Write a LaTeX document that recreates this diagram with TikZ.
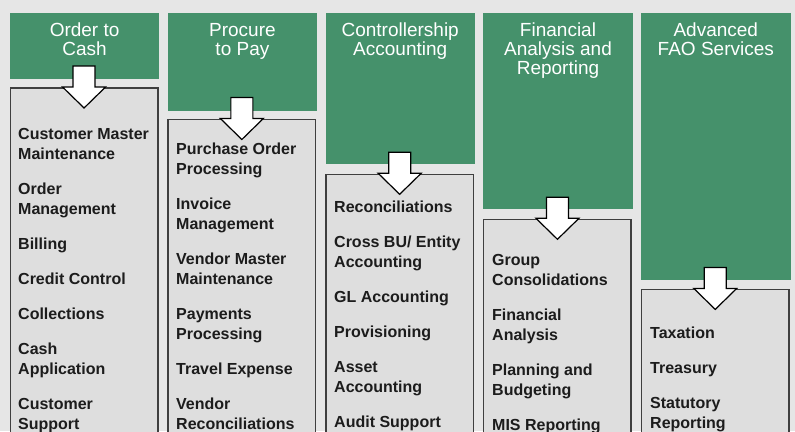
\documentclass[tikz,border=0pt]{standalone}
\usepackage{fontspec}
\setmainfont{Liberation Sans}
\usetikzlibrary{calc}

\definecolor{pagebg}{HTML}{E6E6E6}
\definecolor{fao}{HTML}{45916B}
\definecolor{panelfill}{HTML}{DEDEDE}
\definecolor{rulegray}{HTML}{3F3F3F}
\definecolor{ink}{HTML}{1C1C1C}

% two stacked lines whose reference point is the first baseline
\newcommand\twolines[2]{\vtop{\hbox{#1}\hbox{#2}}}
% centred heading lines, reference point on the first baseline
\newcommand\headlines[1]{\vtop{\halign{\hfil##\hfil\cr#1\crcr}}}

\tikzset{
  headbox/.style={fill=fao, draw=none, inner sep=0pt, outer sep=0pt,
    anchor=north west, minimum width=149.3pt},
  panelbox/.style={fill=panelfill, draw=rulegray, line width=1.5pt,
    inner sep=0pt, outer sep=0pt, anchor=north west,
    minimum width=147.5pt, minimum height=400pt},
  headtext/.style={text=white, font=\fontsize{19}{19}\selectfont,
    inner sep=0pt, anchor=base},
  item/.style={text=ink, font=\fontsize{16}{20}\selectfont\bfseries,
    inner sep=0pt, anchor=base west},
  flow/.style={fill=white, draw=black, line width=1.2pt, line join=miter},
}

% block arrow from a heading down into its panel
\newcommand\flowarrow[1]{%
  \draw[flow]
    ($(#1.north)+(-11,-22)$) -- ($(#1.north)+(11,-22)$) --
    ($(#1.north)+(11,-1)$) -- ($(#1.north)+(21.5,-1)$) --
    ($(#1.north)+(0,20)$) -- ($(#1.north)+(-21.5,-1)$) --
    ($(#1.north)+(-11,-1)$) -- cycle;}

\begin{document}
\begin{tikzpicture}[x=1pt, y=-1pt]
  \path[use as bounding box] (0,0) rectangle (795,431);
  \clip (0,0) rectangle (795,431);
  \fill[pagebg] (0,0) rectangle (795,431);

  % green headings
  \node[headbox, minimum height=66.2pt] (h1) at (10,12.5) {};
  \node[headbox, minimum height=98pt]   (h2) at (167.8,12.5) {};
  \node[headbox, minimum height=151.5pt](h3) at (325.6,12.5) {};
  \node[headbox, minimum height=196.5pt](h4) at (483.4,12.5) {};
  \node[headbox, minimum height=267.5pt](h5) at (641.2,12.5) {};

  \node[headtext] (t1) at (84.6,36) {\headlines{Order to\cr Cash}};
  \node[headtext] (t2) at (242.4,36) {\headlines{Procure\cr to Pay}};
  \node[headtext] (t3) at (400.2,36) {\headlines{Controllership\cr Accounting}};
  \node[headtext] (t4) at (558,36) {\headlines{Financial\cr Analysis and\cr Reporting}};
  \node[headtext] (t5) at (715.8,36) {\headlines{Advanced\cr FAO Services}};

  % grey activity panels
  \node[panelbox] (p1) at (10.3,88) {};
  \node[panelbox] (p2) at (168.1,119.5) {};
  \node[panelbox] (p3) at (325.9,174.3) {};
  \node[panelbox] (p4) at (483.7,219.3) {};
  \node[panelbox] (p5) at (641.5,289.4) {};

  \flowarrow{p1}
  \flowarrow{p2}
  \flowarrow{p3}
  \flowarrow{p4}
  \flowarrow{p5}

  % Order to Cash
  \node[item] (a1) at (18,139) {\twolines{Customer Master}{Maintenance}};
  \node[item] (a2) at (18,194) {\twolines{Order}{Management}};
  \node[item] (a3) at (18,249) {Billing};
  \node[item] (a4) at (18,284) {Credit Control};
  \node[item] (a5) at (18,319) {Collections};
  \node[item] (a6) at (18,354) {\twolines{Cash}{Application}};
  \node[item] (a7) at (18,409) {\twolines{Customer}{Support}};

  % Procure to Pay
  \node[item] (b1) at (176,154) {\twolines{Purchase Order}{Processing}};
  \node[item] (b2) at (176,209) {\twolines{Invoice}{Management}};
  \node[item] (b3) at (176,264) {\twolines{Vendor Master}{Maintenance}};
  \node[item] (b4) at (176,319) {\twolines{Payments}{Processing}};
  \node[item] (b5) at (176,374) {Travel Expense};
  \node[item] (b6) at (176,409) {\twolines{Vendor}{Reconciliations}};

  % Controllership Accounting
  \node[item] (c1) at (334,212) {Reconciliations};
  \node[item] (c2) at (334,247) {\twolines{Cross BU/ Entity}{Accounting}};
  \node[item] (c3) at (334,302) {GL Accounting};
  \node[item] (c4) at (334,337) {Provisioning};
  \node[item] (c5) at (334,372) {\twolines{Asset}{Accounting}};
  \node[item] (c6) at (334,427) {Audit Support};

  % Financial Analysis and Reporting
  \node[item] (d1) at (492,265) {\twolines{Group}{Consolidations}};
  \node[item] (d2) at (492,320) {\twolines{Financial}{Analysis}};
  \node[item] (d3) at (492,375) {\twolines{Planning and}{Budgeting}};
  \node[item] (d4) at (492,430) {MIS Reporting};

  % Advanced FAO Services
  \node[item] (e1) at (650,338) {Taxation};
  \node[item] (e2) at (650,373) {Treasury};
  \node[item] (e3) at (650,408) {\twolines{Statutory}{Reporting}};
\end{tikzpicture}
\end{document}
